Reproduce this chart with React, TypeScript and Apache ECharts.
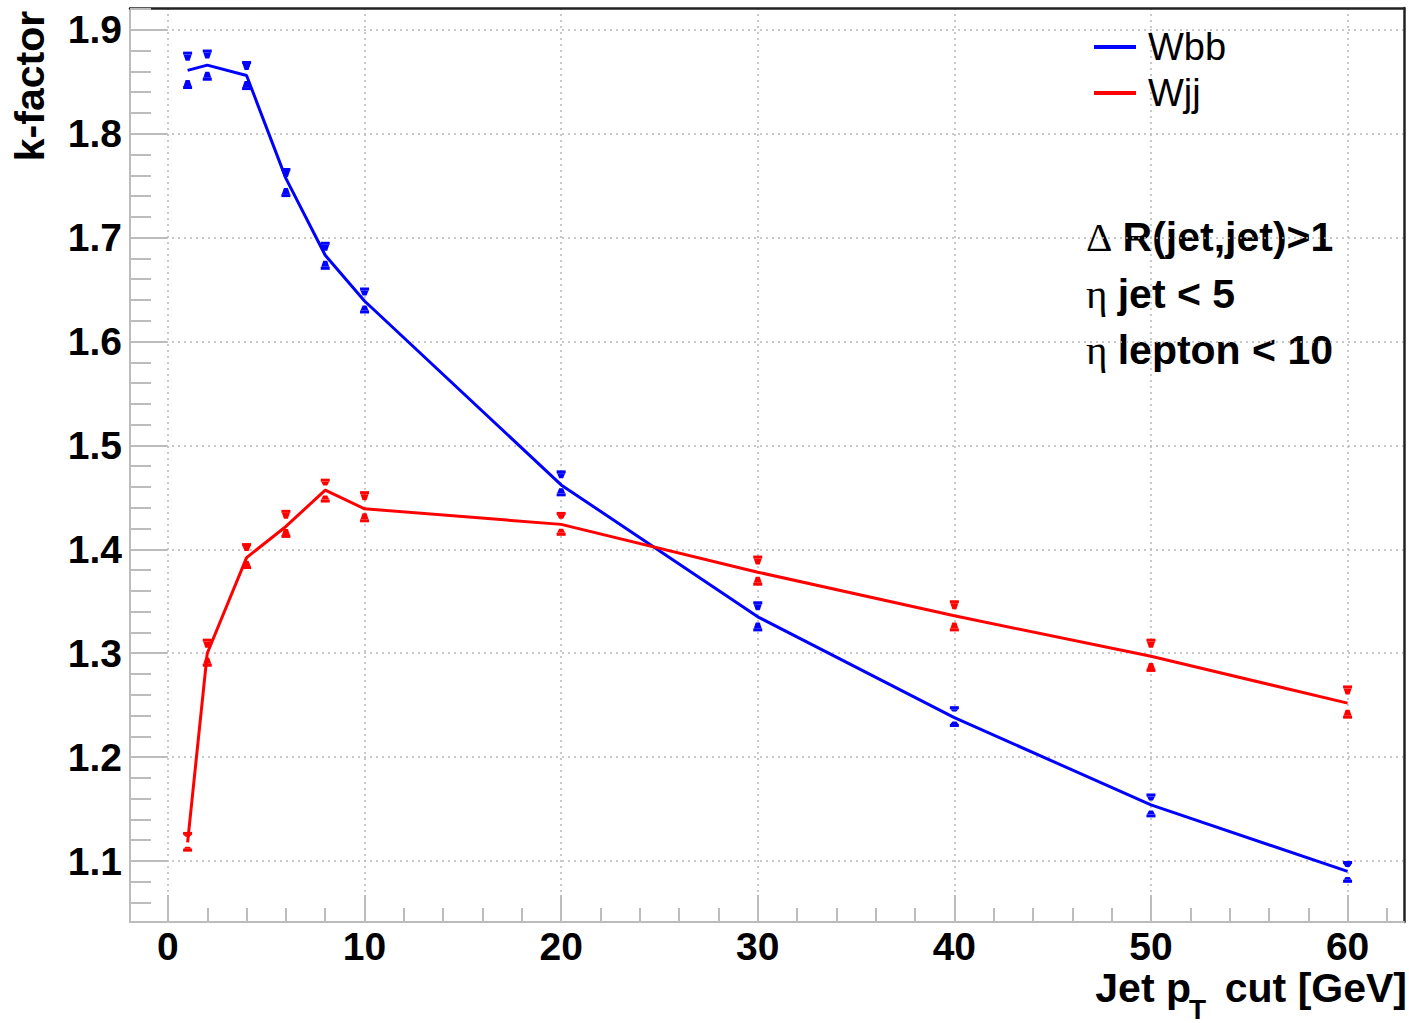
import React, { useEffect, useRef } from "react";
import * as echarts from "echarts";

const ptCuts = [1, 2, 4, 6, 8, 10, 20, 30, 40, 50, 60];
const wbbK = [1.861, 1.866, 1.856, 1.757, 1.683, 1.639, 1.462, 1.335, 1.238, 1.154, 1.090];
const wbbLo = [1.843, 1.851, 1.842, 1.739, 1.669, 1.627, 1.451, 1.321, 1.229, 1.142, 1.079];
const wbbHi = [1.879, 1.881, 1.870, 1.767, 1.696, 1.652, 1.476, 1.350, 1.249, 1.165, 1.100];
const wjjK = [1.118, 1.300, 1.392, 1.422, 1.457, 1.439, 1.424, 1.378, 1.336, 1.297, 1.252];
const wjjLo = [1.109, 1.287, 1.381, 1.411, 1.445, 1.426, 1.413, 1.365, 1.321, 1.282, 1.237];
const wjjHi = [1.128, 1.314, 1.406, 1.438, 1.468, 1.456, 1.436, 1.394, 1.351, 1.314, 1.269];

const xMajor = [0, 10, 20, 30, 40, 50, 60];
const xMinor = [2, 4, 6, 8, 12, 14, 16, 18, 22, 24, 26, 28, 32, 34, 36, 38, 42, 44, 46, 48, 52, 54, 56, 58, 62];
const yMajor = [1.1, 1.2, 1.3, 1.4, 1.5, 1.6, 1.7, 1.8, 1.9];
const yMinor = [1.06, 1.08, 1.12, 1.14, 1.16, 1.18, 1.22, 1.24, 1.26, 1.28, 1.32, 1.34, 1.36, 1.38, 1.42, 1.44, 1.46, 1.48, 1.52, 1.54, 1.56, 1.58, 1.62, 1.64, 1.66, 1.68, 1.72, 1.74, 1.76, 1.78, 1.82, 1.84, 1.86, 1.88, 1.92];

const X_MIN = -1.93;
const X_MAX = 62.87;
const Y_MIN = 1.0413;
const Y_MAX = 1.921;

const BLUE = "#0000ff";
const RED = "#ff0000";
const AXIS_GRAY = "#bcbcbc";
const SANS = "Liberation Sans, Arial, sans-serif";
const SERIF = "Liberation Serif, Times New Roman, serif";

function errRender(color: string) {
  return (params: any, api: any) => {
    const x = api.value(0);
    const lo = api.value(1);
    const hi = api.value(2);
    const top = api.coord([x, hi]);
    const bot = api.coord([x, lo]);
    const cx = top[0];
    const half = (bot[1] - top[1]) / 2;
    const L = Math.max(0, Math.min(6, half - 8));
    const bw = 4.5;
    const bh = 3;
    const children: any[] = [
      { type: "rect", shape: { x: cx - bw, y: top[1], width: bw * 2, height: bh }, style: { fill: color } },
      { type: "rect", shape: { x: cx - bw, y: bot[1] - bh, width: bw * 2, height: bh }, style: { fill: color } },
    ];
    if (L > 0.5) {
      children.push({
        type: "polygon",
        shape: { points: [[cx - 4, top[1] + bh], [cx + 4, top[1] + bh], [cx + 2, top[1] + bh + L], [cx - 2, top[1] + bh + L]] },
        style: { fill: color },
      });
      children.push({
        type: "polygon",
        shape: { points: [[cx - 4, bot[1] - bh], [cx + 4, bot[1] - bh], [cx + 2, bot[1] - bh - L], [cx - 2, bot[1] - bh - L]] },
        style: { fill: color },
      });
    }
    return { type: "group", children };
  };
}

export default function App() {
  const ref = useRef<HTMLDivElement>(null);
  useEffect(() => {
    if (!ref.current) return;
    const chart = echarts.init(ref.current, null, { renderer: "svg" });
    const wbbLine = ptCuts.map((x, i) => [x, wbbK[i]]);
    const wjjLine = ptCuts.map((x, i) => [x, wjjK[i]]);
    const wbbErr = ptCuts.map((x, i) => [x, wbbLo[i], wbbHi[i]]);
    const wjjErr = ptCuts.map((x, i) => [x, wjjLo[i], wjjHi[i]]);

    const option: any = {
      animation: false,
      backgroundColor: "#ffffff",
      grid: { left: 130, right: 5, top: 8, bottom: 101, containLabel: false, outerBoundsMode: "none" },
      legend: {
        data: ["Wbb", "Wjj"],
        orient: "vertical",
        left: 1094,
        top: 24,
        padding: 0,
        itemGap: 0,
        itemWidth: 42,
        itemHeight: 4,
        icon: "rect",
        textStyle: { fontFamily: SANS, fontSize: 38, color: "#000", lineHeight: 46, padding: [0, 0, 0, 7] },
      },
      xAxis: [
        {
          type: "value", min: X_MIN, max: X_MAX, position: "bottom",
          axisLine: { show: true, onZero: false, lineStyle: { color: AXIS_GRAY, width: 2 } },
          axisTick: { show: true, inside: true, length: 27, customValues: xMajor, lineStyle: { color: AXIS_GRAY, width: 2 } },
          axisLabel: { show: true, customValues: xMajor, margin: 7, lineHeight: 34, fontFamily: SANS, fontWeight: "bold", fontSize: 39, color: "#000", formatter: (v: number) => String(Math.round(v)) },
          splitLine: { show: true, lineStyle: { color: "#b8b8b8", width: 1.5, type: [2, 4] } },
        },
        {
          type: "value", min: X_MIN, max: X_MAX, position: "bottom",
          axisLine: { show: false, onZero: false },
          axisTick: { show: true, inside: true, length: 14, customValues: xMinor, lineStyle: { color: AXIS_GRAY, width: 2 } },
          axisLabel: { show: false },
          splitLine: { show: false },
        },
        {
          type: "value", min: X_MIN, max: X_MAX, position: "top",
          axisLine: { show: true, onZero: false, lineStyle: { color: "#222", width: 2.5 } },
          axisTick: { show: false }, axisLabel: { show: false }, splitLine: { show: false },
        },
      ],
      yAxis: [
        {
          type: "value", min: Y_MIN, max: Y_MAX, position: "left",
          axisLine: { show: true, onZero: false, lineStyle: { color: AXIS_GRAY, width: 2 } },
          axisTick: { show: true, inside: true, length: 37, customValues: yMajor, lineStyle: { color: AXIS_GRAY, width: 2 } },
          axisLabel: { show: true, customValues: yMajor, margin: 8, fontFamily: SANS, fontWeight: "bold", fontSize: 39, color: "#000", formatter: (v: number) => v.toFixed(1) },
          splitLine: { show: true, lineStyle: { color: "#b8b8b8", width: 1.5, type: [2, 4] } },
        },
        {
          type: "value", min: Y_MIN, max: Y_MAX, position: "left",
          axisLine: { show: false, onZero: false },
          axisTick: { show: true, inside: true, length: 21, customValues: yMinor, lineStyle: { color: AXIS_GRAY, width: 2 } },
          axisLabel: { show: false },
          splitLine: { show: false },
        },
        {
          type: "value", min: Y_MIN, max: Y_MAX, position: "right",
          axisLine: { show: true, onZero: false, lineStyle: { color: "#222", width: 2.5 } },
          axisTick: { show: false }, axisLabel: { show: false }, splitLine: { show: false },
        },
      ],
      series: [
        {
          name: "Wbb", type: "line", data: wbbLine, symbol: "none", xAxisIndex: 0, yAxisIndex: 0,
          lineStyle: { color: BLUE, width: 3 }, itemStyle: { color: BLUE }, z: 5,
        },
        {
          name: "Wjj", type: "line", data: wjjLine, symbol: "none", xAxisIndex: 0, yAxisIndex: 0,
          lineStyle: { color: RED, width: 3 }, itemStyle: { color: RED }, z: 5,
        },
        {
          name: "Wbb err", type: "custom", data: wbbErr, xAxisIndex: 0, yAxisIndex: 0,
          renderItem: errRender(BLUE), z: 6,
        },
        {
          name: "Wjj err", type: "custom", data: wjjErr, xAxisIndex: 0, yAxisIndex: 0,
          renderItem: errRender(RED), z: 6,
        },
      ],
      graphic: [
        {
          type: "text", x: 30, y: 86, rotation: Math.PI / 2,
          style: { text: "k-factor", fontFamily: SANS, fontWeight: "bold", fontSize: 41, fill: "#000", textAlign: "center", textVerticalAlign: "middle" },
        },
        {
          type: "text", x: 1191, y: 988,
          style: { text: "Jet p", fontFamily: SANS, fontWeight: "bold", fontSize: 41, lineHeight: 30, fill: "#000", textAlign: "right", textVerticalAlign: "middle" },
        },
        {
          type: "text", x: 1189, y: 1009,
          style: { text: "T", fontFamily: SANS, fontWeight: "bold", fontSize: 28, lineHeight: 20, fill: "#000", textAlign: "left", textVerticalAlign: "middle" },
        },
        {
          type: "text", x: 1407, y: 988,
          style: { text: "cut [GeV]", fontFamily: SANS, fontWeight: "bold", fontSize: 41, lineHeight: 30, fill: "#000", textAlign: "right", textVerticalAlign: "middle" },
        },
        {
          type: "text", x: 1086, y: 237,
          style: {
            text: "{s|Δ }{b|R(jet,jet)>1}", textAlign: "left", textVerticalAlign: "middle",
            rich: {
              s: { fontFamily: SERIF, fontSize: 41, fill: "#000" },
              b: { fontFamily: SANS, fontWeight: "bold", fontSize: 41, fill: "#000" },
            },
          },
        },
        {
          type: "text", x: 1086, y: 294,
          style: {
            text: "{s|η }{b|jet < 5}", textAlign: "left", textVerticalAlign: "middle",
            rich: {
              s: { fontFamily: SERIF, fontSize: 41, fill: "#000" },
              b: { fontFamily: SANS, fontWeight: "bold", fontSize: 41, fill: "#000" },
            },
          },
        },
        {
          type: "text", x: 1086, y: 350,
          style: {
            text: "{s|η }{b|lepton < 10}", textAlign: "left", textVerticalAlign: "middle",
            rich: {
              s: { fontFamily: SERIF, fontSize: 41, fill: "#000" },
              b: { fontFamily: SANS, fontWeight: "bold", fontSize: 41, fill: "#000" },
            },
          },
        },
      ],
    };
    chart.setOption(option);
    return () => chart.dispose();
  }, []);
  return (
    <div
      ref={ref}
      style={{ position: "fixed", left: 0, top: 0, width: 1409, height: 1023, background: "#fff" }}
    />
  );
}
